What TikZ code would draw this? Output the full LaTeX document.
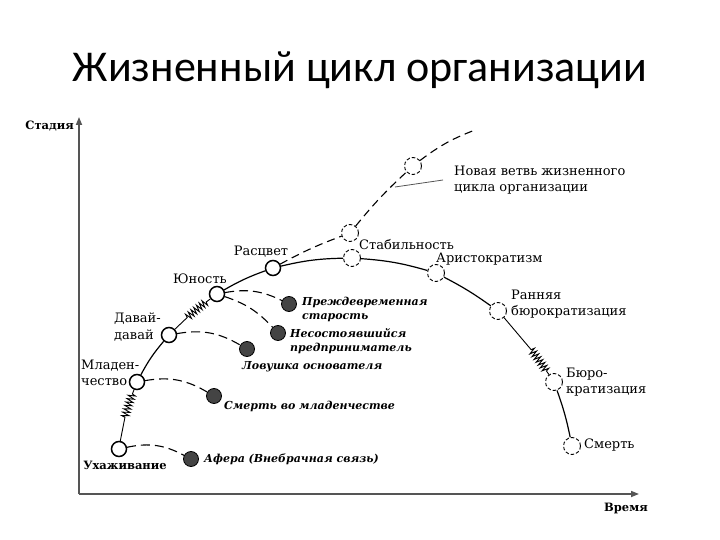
\documentclass[tikz,border=0pt]{standalone}
\usepackage{fontspec}
\setmainfont{DejaVu Serif}
\newfontfamily\titlefont{Carlito}
\usetikzlibrary{decorations.pathmorphing, arrows.meta}
\definecolor{darkfill}{HTML}{444444}
\definecolor{axisgray}{HTML}{555555}
\begin{document}
\begin{tikzpicture}[x=1pt,y=-1pt,
 open/.style={circle, draw, line width=1.5pt, fill=white, minimum size=15pt, inner sep=0pt},
 dcirc/.style={circle, draw, line width=0.9pt, dash pattern=on 3.5pt off 2pt, fill=white, minimum size=17pt, inner sep=0pt},
 dark/.style={circle, draw, line width=0.8pt, fill=darkfill, minimum size=15pt, inner sep=0pt},
 mainline/.style={line width=1.2pt},
 spring/.style={line width=0.9pt, decorate, decoration={zigzag, segment length=3.5pt, amplitude=3.5pt}},
 branch/.style={line width=1.1pt, dash pattern=on 8pt off 5pt},
 outline/.style={line width=1.1pt, dash pattern=on 9pt off 5pt},
 lbl/.style={font=\fontsize{13}{16.5}\selectfont, inner sep=0pt, align=left},
 blbl/.style={font=\fontsize{11.5}{13}\selectfont\bfseries, inner sep=0pt},
 ilbl/.style={font=\fontsize{11}{14}\selectfont\bfseries\itshape, inner sep=0pt, align=left},
 axisline/.style={line width=1.6pt, draw=axisgray, -{Triangle[length=8pt,width=6pt]}},
]
\useasboundingbox (0,0) rectangle (720,540);

% title
\node[font=\titlefont\fontsize{44}{50}\selectfont, anchor=base] (title) at (360,82) {Жизненный цикл организации};

% axes
\coordinate (o) at (79,494);
\coordinate (ytop) at (79,117);
\coordinate (xend) at (639,494);
\draw[axisline] (o) -- (ytop);
\draw[axisline] (o) -- (xend);
\node[blbl, anchor=east] (ylab) at (74,126) {Стадия};
\node[blbl] (xlab) at (626,509) {Время};

% main nodes
\node[open] (uh) at (119,449) {};
\node[open] (ml) at (137,382) {};
\node[open] (dd) at (169,335) {};
\node[open] (yu) at (217,294) {};
\node[open] (ra) at (273,268) {};
\node[dcirc] (st) at (352,258) {};
\node[dcirc] (stu) at (350,233) {};
\node[dcirc] (nv) at (413,166) {};
\coordinate (nvend) at (475,130);
\node[dcirc] (ar) at (436,273) {};
\node[dcirc] (rb) at (498,311) {};
\node[dcirc] (bu) at (554,382) {};
\node[dcirc] (sm) at (572,446) {};

% dark nodes
\node[dark] (ps) at (289,304) {};
\node[dark] (np) at (278,333) {};
\node[dark] (lo) at (247,349) {};
\node[dark] (sd) at (214,396) {};
\node[dark] (af) at (191,459) {};

% main curve
\draw[spring, decoration={pre length=24pt, post length=4pt}] (uh) to[bend left=6] (ml);
\draw[mainline] (ml) to[bend left=6] (dd);
\draw[spring, decoration={pre length=17pt, post length=4pt}] (dd) to[bend left=4] (yu);
\draw[mainline] (yu) to[bend left=5] (ra);
\draw[mainline] (ra) to[bend left=6] (st);
\draw[mainline] (st) to[bend left=6] (ar);
\draw[mainline] (ar) to[bend left=4] (rb);
\draw[spring, decoration={pre length=42pt, post length=3pt}] (rb) to[bend left=4] (bu);
\draw[mainline] (bu) to[bend left=4] (sm);

% new branch
\draw[branch] (ra) to[bend left=4] (stu);
\draw[branch] (stu) to[bend left=4] (nv);
\draw[branch] (nv) to[bend left=8] (nvend);

% dead ends
\draw[outline] (yu) to[bend left=18] (ps);
\draw[outline] (yu) to[bend left=14] (np);
\draw[outline] (dd) to[bend left=20] (lo);
\draw[outline] (ml) to[bend left=20] (sd);
\draw[outline] (uh) to[bend left=20] (af);

% leader line
\coordinate (ldA) at (395,187);
\coordinate (ldB) at (443,180);
\draw[line width=0.8pt, draw=axisgray] (ldA) -- (ldB);

% labels
\node[blbl] (luh) at (125,465) {Ухаживание};
\node[lbl, anchor=west] (lml) at (81,373) {Младен-\\чество};
\node[lbl, anchor=west] (ldd) at (114,327) {Давай-\\давай};
\node[lbl] (lyu) at (200,279) {Юность};
\node[lbl] (lra) at (261,252) {Расцвет};
\node[lbl, anchor=west] (lst) at (359,245) {Стабильность};
\node[lbl, anchor=west] (lar) at (436,259) {Аристократизм};
\node[lbl, anchor=west] (lrb) at (511,304) {Ранняя\\бюрократизация};
\node[lbl, anchor=west] (lbu) at (566,382) {Бюро-\\кратизация};
\node[lbl, anchor=west] (lsm) at (584,445) {Смерть};
\node[lbl, anchor=west] (lnv) at (454,180) {Новая ветвь жизненного\\цикла организации};

\node[ilbl, anchor=west] (lps) at (302,309) {Преждевременная\\старость};
\node[ilbl, anchor=west] (lnp) at (290,341) {Несостоявшийся\\предприниматель};
\node[ilbl, anchor=west] (llo) at (242,367) {Ловушка основателя};
\node[ilbl, anchor=west] (lsd) at (224,406) {Смерть во младенчестве};
\node[ilbl, anchor=west] (laf) at (204,459) {Афера (Внебрачная связь)};
\end{tikzpicture}
\end{document}
